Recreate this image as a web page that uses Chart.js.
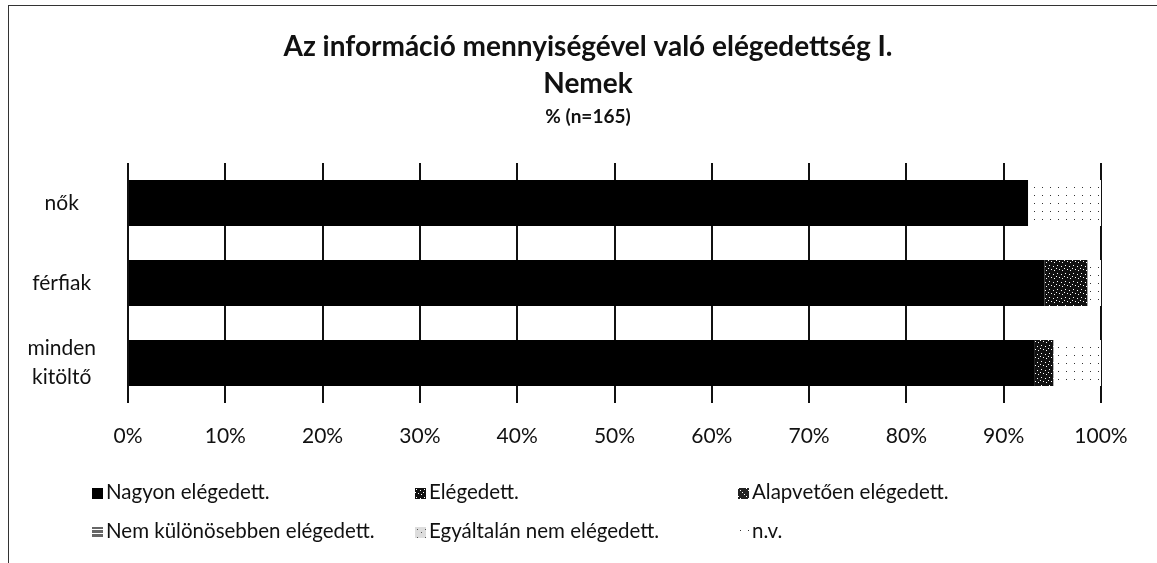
<!DOCTYPE html>
<html>
<head>
<meta charset="utf-8">
<script src="https://cdn.jsdelivr.net/npm/chart.js@4.4.0/dist/chart.umd.min.js"></script>
<style>
  html, body { margin: 0; padding: 0; background: #fff; }
  #wrap { position: relative; width: 1157px; height: 563px; overflow: hidden; }
  #frame { position: absolute; left: 8px; top: 5px; width: 1160px; height: 600px; border-left: 1.5px solid #333; border-top: 1.5px solid #333; }
  canvas#chart { position: absolute; left: 0; top: 0; }
  .leg { position: absolute; font-family: Lato, 'Open Sans', sans-serif; font-size: 20.5px; color: #111; white-space: nowrap; line-height: 24px; }
  .leg canvas { position: relative; top: 0px; margin-right: 3px; vertical-align: baseline; }
</style>
</head>
<body>
<div id="wrap">
  <div id="frame"></div>
  <canvas id="chart" width="1157" height="563"></canvas>
</div>
<script>
// categories (top to bottom)
const groups = ['nők', 'férfiak', ['minden', 'kitöltő']];

// series names, as in the legend
const seriesNames = ['Nagyon elégedett.', 'Elégedett.', 'Alapvetően elégedett.',
  'Nem különösebben elégedett.', 'Egyáltalán nem elégedett.', 'n.v.'];

// percentages per group, one array per series
const nagyon     = [92.5, 94.2, 93.2];
const elegedett  = [0, 4.4, 1.9];
const alapvetoen = [0, 0, 0];
const nemKulon   = [0, 0, 0];
const egyaltalan = [0, 0, 0];
const nv         = [7.5, 1.4, 4.9];

const xTicks = [0, 10, 20, 30, 40, 50, 60, 70, 80, 90, 100];

const titleLines = ['Az információ mennyiségével való elégedettség I.', 'Nemek'];
const subtitleText = '% (n=165)';

const seriesData = [nagyon, elegedett, alapvetoen, nemKulon, egyaltalan, nv];

// halftone-ish fills, the scan renders them as speckle
function makePattern(kind) {
  const c = document.createElement('canvas');
  c.width = 8; c.height = 8;
  const g = c.getContext('2d');
  if (kind === 0) { g.fillStyle = '#000'; g.fillRect(0, 0, 8, 8); }
  else if (kind === 1) {
    g.fillStyle = '#111'; g.fillRect(0, 0, 8, 8);
    g.fillStyle = '#fff';
    [[1,1],[5,2],[3,5],[6,6],[0,4]].forEach(p => g.fillRect(p[0], p[1], 1, 1));
  } else if (kind === 2) {
    g.fillStyle = '#222'; g.fillRect(0, 0, 8, 8);
    g.fillStyle = '#fff';
    for (let i = 0; i < 8; i += 2) g.fillRect(i, i, 1, 1);
  } else if (kind === 3) {
    g.fillStyle = '#666'; g.fillRect(0, 0, 8, 8);
    g.fillStyle = '#fff'; g.fillRect(0, 2, 8, 1); g.fillRect(0, 6, 8, 1);
  } else if (kind === 4) {
    g.fillStyle = '#ddd'; g.fillRect(0, 0, 8, 8);
    g.fillStyle = '#555'; g.fillRect(2, 2, 1, 1); g.fillRect(6, 5, 1, 1);
  } else {
    g.fillStyle = '#fff'; g.fillRect(0, 0, 8, 8);
    g.fillStyle = '#333'; g.fillRect(2, 3, 1, 1);
  }
  return g.createPattern(c, 'repeat');
}

// title drawn centred on the whole chart object (Excel style)
const headline = {
  id: 'headline',
  afterDraw(chart) {
    const c = chart.ctx;
    c.save();
    c.fillStyle = '#111';
    c.textAlign = 'center';
    c.textBaseline = 'middle';
    c.font = 'bold 28px Lato';
    c.fillText(titleLines[0], 588, 47);
    c.fillText(titleLines[1], 588, 84);
    c.font = 'bold 19px Lato';
    c.fillText(subtitleText, 588, 117);
    c.restore();
  }
};

const ctx = document.getElementById('chart').getContext('2d');

const chart = new Chart(ctx, {
  type: 'bar',
  data: {
    labels: groups,
    datasets: seriesNames.map((name, i) => ({
      label: name,
      data: seriesData[i],
      backgroundColor: makePattern(i),
      borderWidth: 0,
      barPercentage: 0.575,
      categoryPercentage: 1.0
    }))
  },
  options: {
    indexAxis: 'y',
    responsive: false,
    animation: false,
    layout: { padding: { left: 28, right: 56, top: 163, bottom: 110 } },
    plugins: {
      legend: { display: false },
      tooltip: { enabled: false }
    },
    scales: {
      x: {
        stacked: true,
        min: 0, max: 100,
        afterBuildTicks: s => { s.ticks = xTicks.map(v => ({ value: v })); },
        afterFit: s => { s.height = 50; },
        grid: { color: '#111', lineWidth: 2, drawTicks: false },
        border: { display: false },
        ticks: {
          callback: v => v + '%',
          color: '#111',
          padding: 21,
          maxRotation: 0,
          font: { family: 'Lato', size: 21 }
        }
      },
      y: {
        stacked: true,
        grid: { display: false },
        border: { display: false },
        afterFit: s => { s.width = 100; },
        ticks: {
          color: '#111',
          padding: 24,
          crossAlign: 'center',
          font: { family: 'Lato', size: 21, lineHeight: 1.4 }
        }
      }
    }
  },
  plugins: [headline]
});

// legend, three columns, built from the same series
const legendCols = [92, 415, 738];
const legendRows = [479, 518];
seriesNames.forEach((name, i) => {
  const d = document.createElement('div');
  d.className = 'leg';
  d.style.left = legendCols[i % 3] + 'px';
  d.style.top = legendRows[Math.floor(i / 3)] + 'px';
  const sw = document.createElement('canvas');
  sw.width = 11; sw.height = 11;
  const sg = sw.getContext('2d');
  sg.fillStyle = makePattern(i);
  sg.fillRect(0, 0, 11, 11);
  d.appendChild(sw);
  d.appendChild(document.createTextNode(name));
  document.getElementById('wrap').appendChild(d);
});
</script>
</body>
</html>
